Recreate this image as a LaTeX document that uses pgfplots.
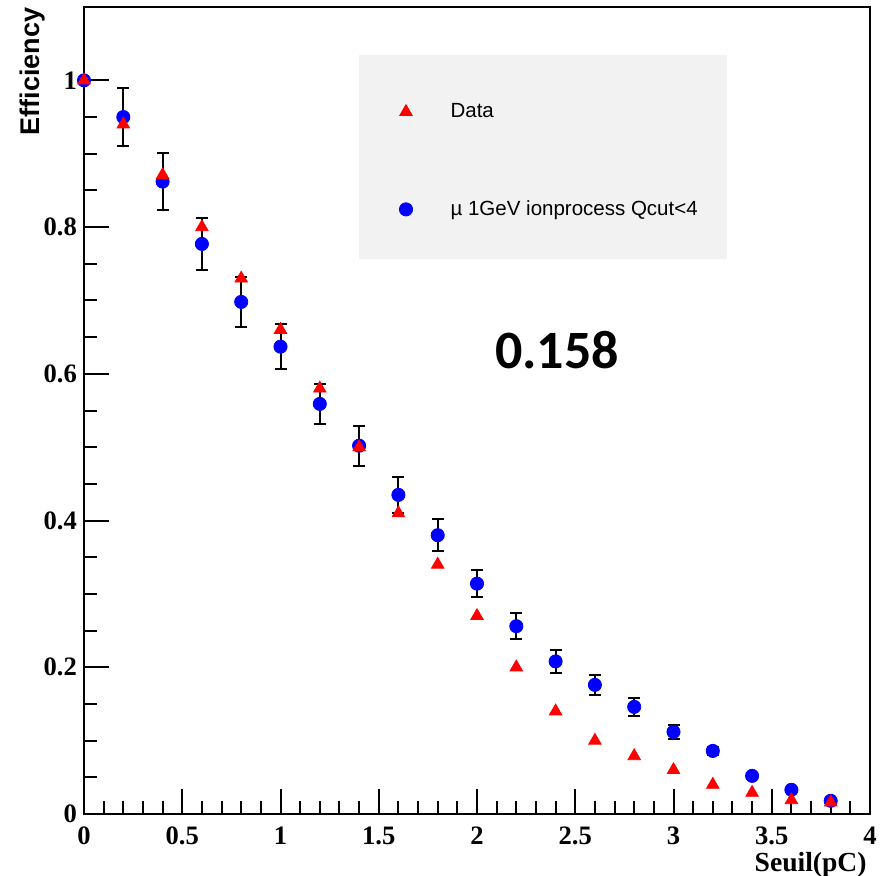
\documentclass[border=0pt]{standalone}
\usepackage{fontspec}
\setmainfont{Liberation Serif}
\newfontfamily\arial{Liberation Sans}
\newfontfamily\calibri{Carlito}
\usepackage{pgfplots}
\usepackage{pgfplotstable}
\pgfplotsset{compat=1.18}
\definecolor{legbg}{HTML}{F2F2F2}

% measured data (red triangles)
\pgfplotstableread{
x    y
0.0  1.000
0.2  0.940
0.4  0.871
0.6  0.800
0.8  0.730
1.0  0.660
1.2  0.580
1.4  0.500
1.6  0.410
1.8  0.340
2.0  0.270
2.2  0.200
2.4  0.140
2.6  0.100
2.8  0.079
3.0  0.060
3.2  0.040
3.4  0.029
3.6  0.019
3.8  0.016
}\datatab

% simulation (blue circles with errors)
\pgfplotstableread{
x    y      ey
0.0  1.000  0.000
0.2  0.950  0.040
0.4  0.862  0.039
0.6  0.777  0.036
0.8  0.698  0.034
1.0  0.637  0.031
1.2  0.559  0.027
1.4  0.502  0.027
1.6  0.435  0.025
1.8  0.380  0.022
2.0  0.314  0.018
2.2  0.256  0.018
2.4  0.208  0.016
2.6  0.176  0.014
2.8  0.146  0.012
3.0  0.112  0.010
3.2  0.086  0.006
3.4  0.052  0.004
3.6  0.033  0.003
3.8  0.018  0.002
}\mctab

\begin{document}
\begin{tikzpicture}
\begin{axis}[
    name=ax,
    scale only axis,
    width=393pt, height=403.5pt,
    xmin=0, xmax=4, ymin=0, ymax=1.1,
    xtick={0,0.5,...,4}, ytick={0,0.2,...,1},
    minor x tick num=4, minor y tick num=3,
    tick align=inside, xtick pos=bottom, ytick pos=left,
    major tick length=12.5pt, minor tick length=6.5pt,
    tick style={black, line width=1pt},
    axis line style={line width=1pt},
    /pgf/number format/assume math mode=true,
    tick label style={font=\fontsize{13.3}{15}\selectfont\bfseries},
    xticklabel style={yshift=-3pt},
    xlabel={Seuil(pC)},
    xlabel style={font=\fontsize{13.8}{16}\selectfont\bfseries, at={(axis description cs:1,0)}, anchor=base east, inner sep=0pt, xshift=-1.5pt, yshift=-28.5pt},
    ylabel={Efficiency},
    ylabel style={font=\arial\bfseries\fontsize{13.5}{16}\selectfont, at={(axis cs:-0.26,1.012)}, anchor=center},
    reverse legend,
    legend style={draw=none, fill=none, at={(axis cs:1.603,0.9747)}, anchor=north west,
        font=\arial\fontsize{10.25}{12}\selectfont, row sep=36pt, /tikz/column sep=17pt, inner sep=0pt},
    legend cell align=left,
]
\fill[legbg] (axis cs:1.40,0.757) rectangle (axis cs:3.27,1.035);
\addplot[only marks, mark=*, mark size=3.3pt, color=blue,
    error bars/.cd, y dir=both, y explicit,
    error bar style={black, line width=1pt},
    error mark options={rotate=90, black, mark size=3pt, line width=1pt}]
    table[x=x, y=y, y error=ey] {\mctab};
\addlegendentry{µ 1GeV ionprocess Qcut<4}
\addplot[only marks, mark=triangle*, mark size=3.6pt, color=red]
    table[x=x, y=y] {\datatab};
\addlegendentry{Data}
\node[font=\calibri\bfseries\fontsize{27}{30}\selectfont] at (axis cs:2.407,0.632) {0.158};
\end{axis}
\pgfresetboundingbox
\path ([xshift=-42pt,yshift=-30.5pt]ax.south west) rectangle ([xshift=8.5pt,yshift=3.5pt]ax.north east);
\end{tikzpicture}
\end{document}
